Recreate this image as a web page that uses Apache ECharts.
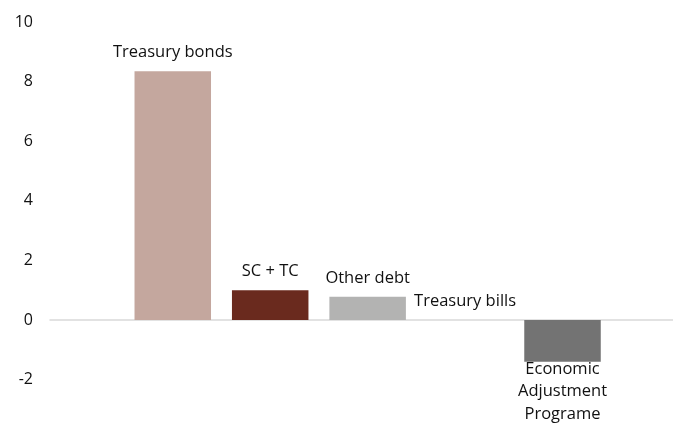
<!DOCTYPE html>
<html>
<head>
<meta charset="utf-8">
<script src="https://cdn.jsdelivr.net/npm/echarts@6/dist/echarts.min.js"></script>
<style>
  html, body { margin: 0; padding: 0; background: #ffffff; }
  #chart { width: 673px; height: 423px; }
</style>
</head>
<body>
<div id="chart"></div>
<script>
// Contributions by instrument
const categories = ['Treasury bonds', 'SC + TC', 'Other debt', 'Treasury bills', 'Economic\nAdjustment\nPrograme'];
const values = [8.35, 1.0, 0.78, 0.0, -1.4];
const barColors = ['#c4a79e', '#6a2a1e', '#b3b3b2', '#b3b3b2', '#737373'];
const yTicks = { min: -2, max: 10, step: 2 };

const font = '"Open Sans", "Noto Sans", sans-serif';
const textColor = '#111111';

const chart = echarts.init(document.getElementById('chart'), null, { renderer: 'canvas' });

const barData = values.map((v, i) => ({
  value: [i, v],
  itemStyle: { color: barColors[i] },
  label: v < 0
    ? { position: 'bottom', distance: -4, lineHeight: 22.5 }
    : { position: 'top', distance: 10 }
}));

chart.setOption({
  animation: false,
  grid: { left: 50, right: 0, top: 22, bottom: 43.4, containLabel: false },
  xAxis: {
    type: 'value',
    min: -1.26,
    max: 5.134,
    axisLine: { show: true, onZero: true, lineStyle: { color: '#d9d9d9', width: 1.5 } },
    axisTick: { show: false },
    axisLabel: { show: false },
    splitLine: { show: false }
  },
  yAxis: {
    type: 'value',
    min: yTicks.min,
    max: yTicks.max,
    interval: yTicks.step,
    axisLine: { show: false },
    axisTick: { show: false },
    splitLine: { show: false },
    axisLabel: { color: textColor, fontFamily: font, fontSize: 16, margin: 17 }
  },
  series: [{
    type: 'bar',
    barWidth: 76.5,
    data: barData,
    label: {
      show: true,
      color: textColor,
      fontFamily: font,
      fontSize: 16.5,
      formatter: p => categories[p.dataIndex]
    }
  }]
});
</script>
</body>
</html>
